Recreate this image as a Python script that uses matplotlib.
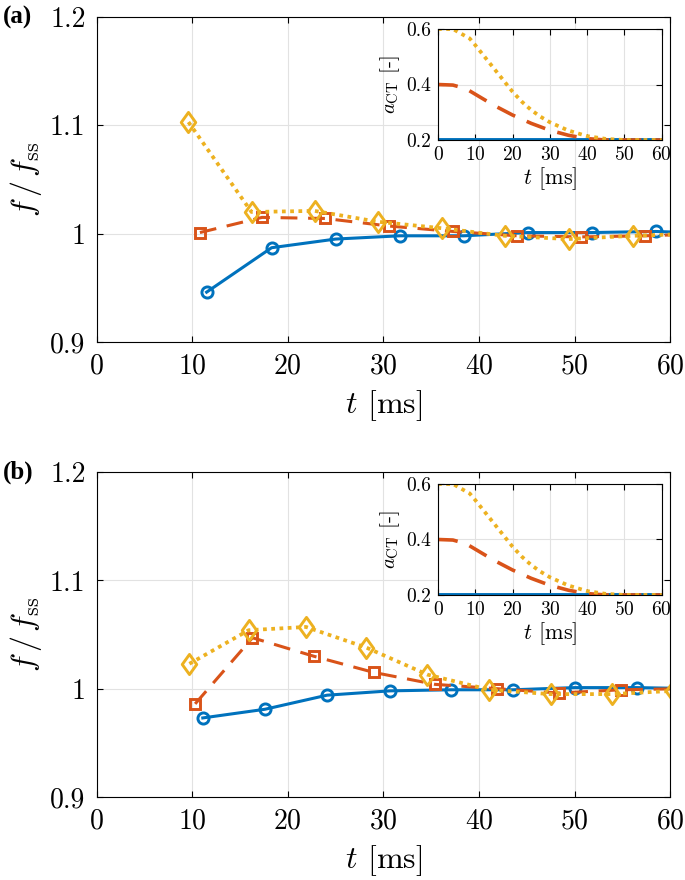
import matplotlib
matplotlib.use("Agg")
import matplotlib.pyplot as plt
from matplotlib.path import Path

plt.rcParams['font.family'] = 'serif'
plt.rcParams['font.serif'] = ['cmr10']
plt.rcParams['mathtext.fontset'] = 'cm'
plt.rcParams['axes.formatter.use_mathtext'] = True

BLUE = '#0072BD'
ORANGE = '#D95319'
YELLOW = '#EDB120'

# panel (a): f/f_ss vs t
a_t_blue = [11.5, 18.3, 25.0, 31.7, 38.4, 45.1, 51.8, 58.5, 65.2]
a_f_blue = [0.946, 0.987, 0.995, 0.998, 0.998, 1.001, 1.001, 1.002, 1.000]
a_t_orange = [10.8, 17.3, 23.9, 30.6, 37.3, 44.0, 50.7, 57.4, 64.1]
a_f_orange = [1.001, 1.015, 1.014, 1.007, 1.002, 0.998, 0.997, 0.998, 1.000]
a_t_yellow = [9.6, 16.2, 22.8, 29.4, 36.1, 42.7, 49.4, 56.1, 62.8]
a_f_yellow = [1.103, 1.020, 1.021, 1.011, 1.005, 0.998, 0.995, 0.998, 1.000]

# panel (b)
b_t_blue = [11.1, 17.6, 24.1, 30.7, 37.1, 43.6, 50.0, 56.5, 63.0]
b_f_blue = [0.973, 0.981, 0.994, 0.998, 0.999, 0.999, 1.001, 1.001, 1.000]
b_t_orange = [10.3, 16.3, 22.7, 29.0, 35.4, 41.9, 48.4, 54.9, 61.3]
b_f_orange = [0.986, 1.047, 1.030, 1.015, 1.004, 1.000, 0.996, 0.999, 1.000]
b_t_yellow = [9.7, 15.9, 21.9, 28.2, 34.6, 41.1, 47.5, 53.9, 60.3]
b_f_yellow = [1.023, 1.054, 1.057, 1.038, 1.013, 0.999, 0.995, 0.995, 0.998]

# inset: a_CT vs t (same in both panels)
in_t_blue = [0, 60]
in_a_blue = [0.2, 0.2]
in_t_orange = [0, 4, 7.5, 10, 15, 20, 25, 30, 35, 40, 45, 60]
in_a_orange = [0.4, 0.398, 0.385, 0.365, 0.325, 0.29, 0.26, 0.235, 0.217, 0.205, 0.2, 0.2]
in_t_yellow = [0, 4, 8.5, 10, 12.5, 15, 17.5, 20, 22.5, 25, 27.5, 30, 35, 40, 45, 50, 60]
in_a_yellow = [0.6, 0.6, 0.566, 0.542, 0.5, 0.458, 0.416, 0.374, 0.338, 0.308, 0.284,
               0.264, 0.234, 0.214, 0.204, 0.2, 0.2]

x_ticks = [0, 10, 20, 30, 40, 50, 60]
main_yticks = [0.9, 1.0, 1.1, 1.2]
main_ylabels = ['0.9', '1', '1.1', '1.2']
in_yticks = [0.2, 0.4, 0.6]
in_ylabels = ['0.2', '0.4', '0.6']

DOT = (0, (1, 1.2))
DASH = (0, (5.5, 3.5))
LW = 2.2

# matlab-like diamond, taller than wide
diamond = Path([(0, 1), (0.72, 0), (0, -1), (-0.72, 0), (0, 1)],
               [Path.MOVETO, Path.LINETO, Path.LINETO, Path.LINETO, Path.CLOSEPOLY])


def style_axes(ax, tick_size, xpad, ypad):
    ax.grid(True, color='#e2e2e2', lw=0.8)
    ax.set_axisbelow(True)
    ax.tick_params(direction='in', top=True, right=True, length=4,
                   labelsize=tick_size, width=0.8)
    ax.tick_params(axis='x', pad=xpad)
    ax.tick_params(axis='y', pad=ypad)
    for s in ax.spines.values():
        s.set_linewidth(0.8)


def main_panel(fig, rect, data, label):
    ax = fig.add_axes(rect)
    (tb, fb), (to, fo), (ty, fy) = data
    ax.plot(tb, fb, '-', color=BLUE, lw=LW, marker='o', ms=8, mfc='none', mew=2.1)
    ax.plot(to, fo, color=ORANGE, lw=LW, ls=DASH, marker='s', ms=7, mfc='none', mew=2.1)
    ax.plot(ty, fy, color=YELLOW, lw=2.7, ls=DOT, marker=diamond, ms=14.5, mfc='none', mew=2.1)
    ax.set_xlim(0, 60)
    ax.set_ylim(0.9, 1.2)
    ax.set_xticks(x_ticks)
    ax.set_yticks(main_yticks, main_ylabels)
    style_axes(ax, 20, 8, 8)
    ax.set_xlabel(r'$t$ [ms]', fontsize=23, labelpad=6)
    ax.set_ylabel(r'$f\,/\,f_{\mathrm{ss}}$', fontsize=23, labelpad=4)
    fig.text(0.004, rect[1] + rect[3], label, fontsize=18, fontweight='bold',
             family='Liberation Serif', va='center', ha='left')
    return ax


def inset(fig, rect):
    ax = fig.add_axes(rect)
    ax.set_facecolor('white')
    ax.plot(in_t_blue, in_a_blue, '-', color=BLUE, lw=2.8)
    ax.plot(in_t_orange, in_a_orange, color=ORANGE, lw=2.6, ls=DASH)
    ax.plot(in_t_yellow, in_a_yellow, color=YELLOW, lw=2.7, ls=DOT)
    ax.set_xlim(0, 60)
    ax.set_ylim(0.2, 0.6)
    ax.set_xticks(x_ticks)
    ax.set_yticks(in_yticks, in_ylabels)
    style_axes(ax, 14, 4, 5)
    ax.set_xlabel(r'$t$ [ms]', fontsize=16, labelpad=1)
    ax.set_ylabel(r'$a_{\mathrm{CT}}$ [-]', fontsize=15, labelpad=3)
    return ax


fig = plt.figure(figsize=(6.85, 8.8), dpi=100)

main_panel(fig, [0.1412, 0.6114, 0.837, 0.3693],
           [(a_t_blue, a_f_blue), (a_t_orange, a_f_orange), (a_t_yellow, a_f_yellow)], '(a)')
inset(fig, [0.6394, 0.8409, 0.3266, 0.1261])

main_panel(fig, [0.1412, 0.0943, 0.837, 0.3693],
           [(b_t_blue, b_f_blue), (b_t_orange, b_f_orange), (b_t_yellow, b_f_yellow)], '(b)')
inset(fig, [0.6394, 0.3239, 0.3266, 0.1261])

fig.savefig('out.png', dpi=100)
